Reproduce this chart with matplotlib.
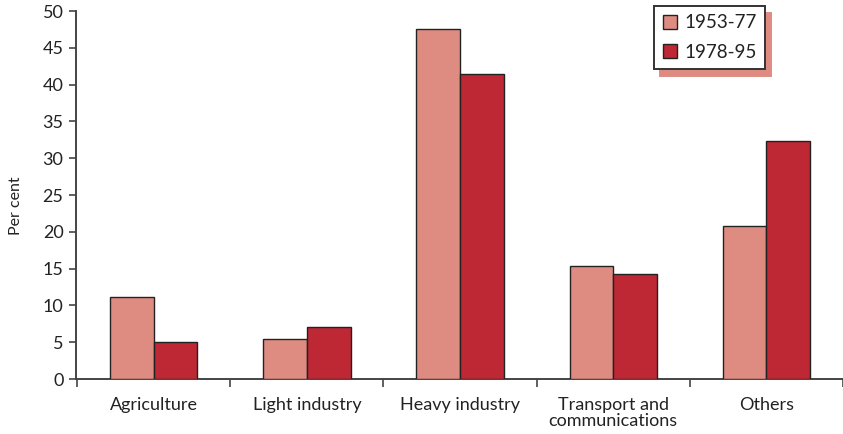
import matplotlib
matplotlib.use("Agg")
import matplotlib.pyplot as plt
import numpy as np

categories = ["Agriculture", "Light industry", "Heavy industry",
              "Transport and\ncommunications", "Others"]
series_names = ["1953-77", "1978-95"]
values_1953_77 = [11.1, 5.4, 47.5, 15.4, 20.8]
values_1978_95 = [5.0, 7.0, 41.4, 14.3, 32.4]
y_ticks = [0, 5, 10, 15, 20, 25, 30, 35, 40, 45, 50]

colors = ["#DE8C82", "#BE2834"]

plt.rcParams["font.family"] = ["Lato", "DejaVu Sans"]

W, H = 843, 434
fig = plt.figure(figsize=(W / 100, H / 100), dpi=100)
ax = fig.add_axes([76 / W, (H - 379) / H, (W - 76) / W, 368 / H])

x = np.arange(len(categories))
bw = 0.285
ax.bar(x - bw / 2, values_1953_77, bw, color=colors[0], edgecolor="#222222",
       linewidth=1.0, label=series_names[0], zorder=3)
ax.bar(x + bw / 2, values_1978_95, bw, color=colors[1], edgecolor="#222222",
       linewidth=1.0, label=series_names[1], zorder=3)

ax.set_xlim(-0.507, 4.46)
ax.set_ylim(0, 50)
ax.set_yticks(y_ticks)
ax.set_yticklabels([str(t) for t in y_ticks], fontsize=13, color="#222222")
ax.tick_params(axis="y", length=5, width=1.2, color="#444444", pad=4)

# category boundaries carry the x ticks; labels sit at category centres
ax.set_xticks(np.arange(len(categories) + 1) - 0.5)
ax.set_xticklabels([])
ax.tick_params(axis="x", length=6, width=1.2, color="#444444")
for xi, name in zip(x, categories):
    ax.text(xi, -2.4, name, ha="center", va="top", fontsize=13,
            color="#222222", linespacing=1.0)

for s in ["top", "right"]:
    ax.spines[s].set_visible(False)
for s in ["left", "bottom"]:
    ax.spines[s].set_color("#444444")
    ax.spines[s].set_linewidth(1.4)

fig.text(16 / W, 1 - 206 / H, "Per cent", rotation=90, ha="center",
         va="center", fontsize=11.5, color="#222222")

leg = ax.legend(loc="upper right", bbox_to_anchor=(765 / W, 1 - 6 / H),
                bbox_transform=fig.transFigure, borderaxespad=0,
                fancybox=False, frameon=True, fontsize=13.5,
                handlelength=0.75, handleheight=0.75, handletextpad=0.4,
                labelspacing=0.65, borderpad=0.45,
                shadow={"ox": 4, "oy": -5, "color": colors[0], "alpha": 1})
leg.get_frame().set_edgecolor("#333333")
leg.get_frame().set_linewidth(1.4)
leg.get_frame().set_alpha(1)
for t in leg.get_texts():
    t.set_color("#222222")

fig.savefig("out.png", dpi=100)
